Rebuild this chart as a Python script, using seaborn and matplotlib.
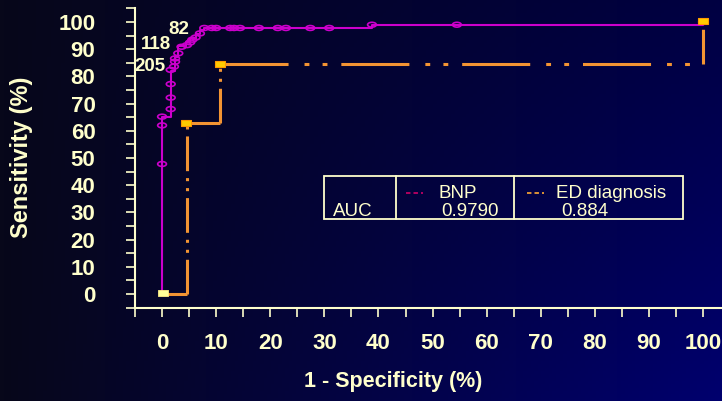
import numpy as np
import pandas as pd
import matplotlib
matplotlib.use("Agg")
import matplotlib.pyplot as plt
import seaborn as sns
from matplotlib.path import Path
from matplotlib.transforms import Affine2D
from matplotlib.patches import Rectangle
from matplotlib.lines import Line2D

# ---------------- data ----------------
bnp_fpr = [0, 0, 1.6, 1.6, 2.4, 2.4, 3.0, 3.0, 4.4, 4.4, 5.2, 5.2, 6.2, 6.2, 7.0, 7.0, 7.8, 7.8, 38.8, 38.8, 100, 100]
bnp_tpr = [0, 65.2, 65.2, 82.0, 82.0, 87.0, 87.0, 91.0, 91.0, 92.5, 92.5, 94.0, 94.0, 95.5, 95.5, 97.0, 97.0, 97.8, 97.8, 99.0, 99.0, 100]

bnp_pts_fpr = [0, 0, 0, 1.6, 1.6, 1.6, 1.6, 2.2, 2.4, 2.4, 3.0, 3.6, 4.6, 5.2, 5.6, 6.2, 7.0, 7.8,
               9.2, 10.0, 12.6, 13.3, 14.4, 17.9, 21.4, 22.9, 27.4, 30.9, 38.8, 54.5, 100]
bnp_pts_tpr = [47.8, 62.0, 65.2, 68.0, 72.2, 77.2, 82.4, 83.6, 85.4, 86.6, 88.5, 90.9, 91.5, 92.5, 93.5, 94.3, 95.8, 97.8,
               97.8, 97.8, 97.8, 97.8, 97.8, 97.8, 97.8, 97.8, 97.8, 97.8, 99.0, 99.0, 100]

ed_fpr = [0, 4.6, 4.6, 10.7, 10.7, 100, 100]
ed_tpr = [0, 0, 63.0, 63.0, 84.6, 84.6, 100]
ed_pts_fpr = [4.5, 10.7, 100]
ed_pts_tpr = [63.0, 84.6, 100.5]

cutoff_labels = ["82", "118", "205"]
cutoff_x = [3.1, -1.2, -2.3]
cutoff_y = [97.4, 91.7, 83.5]

auc_names = ["BNP", "ED diagnosis"]
auc_values = ["0.9790", "0.884"]

xticks = list(range(0, 101, 10))
yticks = list(range(0, 101, 10))

# ---------------- style ----------------
CREAM = "#ffffcc"
MAGENTA = "#cc00cc"
ORANGE = "#f39433"
YELLOW = "#ffcc00"
BOLD = ["Liberation Sans Narrow", "Liberation Sans", "DejaVu Sans"]
REG = ["Liberation Sans", "DejaVu Sans"]

sns.set_theme(style="white")
plt.rcParams["font.family"] = BOLD
plt.rcParams["lines.scale_dashes"] = False

W, H = 722, 401
fig = plt.figure(figsize=(W / 100, H / 100), dpi=100)

# background gradient
bg = fig.add_axes([0, 0, 1, 1], zorder=-10)
xs = np.linspace(0, 1, 200)[None, :]
ys = np.linspace(0, 1, 120)[:, None]  # 0 top, 1 bottom
B = (26 + xs * (40 + 44 * ys)) / 255.0
R = (7 * (1 - xs) + 0 * ys) / 255.0
img = np.dstack([R * np.ones_like(B), R * np.ones_like(B), B])
bg.imshow(img, aspect="auto", extent=[0, 1, 0, 1], origin="upper")
bg.set_axis_off()

L, Rr, T, Bt = 135, 722, 8.4, 307.6
ax = fig.add_axes([L / W, 1 - Bt / H, (Rr - L) / W, (Bt - T) / H])
ax.patch.set_alpha(0)
ax.set_xlim(-5, 103.5)
ax.set_ylim(-5, 105)

df_bnp = pd.DataFrame({"fpr": bnp_fpr, "tpr": bnp_tpr})
sns.lineplot(data=df_bnp, x="fpr", y="tpr", sort=False, estimator=None, ax=ax,
             color=MAGENTA, lw=1.5, zorder=3)

# ED diagnosis: each step segment restarts its dash-dot-dot pattern
H_DASH = [49, 11.5, 3.5, 9.5, 3.5, 10]
V_DASH = [25, 5, 2.2, 5, 2.2, 5]
for i in range(len(ed_fpr) - 1):
    seg = pd.DataFrame({"fpr": ed_fpr[i:i + 2], "tpr": ed_tpr[i:i + 2]})
    sns.lineplot(data=seg, x="fpr", y="tpr", sort=False, estimator=None, ax=ax,
                 color=ORANGE, lw=2.2, zorder=2)
    ln = ax.lines[-1]
    ln.set_dashes(V_DASH if ed_fpr[i] == ed_fpr[i + 1] else H_DASH)
    ln.set_dash_capstyle("butt")

ellipse = Path.unit_circle().transformed(Affine2D().scale(1.0, 0.55))
sns.scatterplot(x=bnp_pts_fpr, y=bnp_pts_tpr, ax=ax, marker=ellipse, s=40, zorder=4)
coll = ax.collections[-1]
coll.set_facecolor("none")
coll.set_edgecolor(MAGENTA)
coll.set_linewidth(1.2)

rect = Path.unit_rectangle().transformed(Affine2D().translate(-0.5, -0.5).scale(1.0, 0.6))
sns.scatterplot(x=ed_pts_fpr, y=ed_pts_tpr, ax=ax, marker=rect, s=60, zorder=5)
c2 = ax.collections[-1]
c2.set_facecolor(YELLOW)
c2.set_edgecolor("#ff9900")
c2.set_linewidth(0.8)
sns.scatterplot(x=[0.2], y=[0.4], ax=ax, marker=rect, s=55, zorder=5)
c3 = ax.collections[-1]
c3.set_facecolor("#ffff99")
c3.set_edgecolor("#ffee88")
c3.set_linewidth(0.6)

for lab, x, y in zip(cutoff_labels, cutoff_x, cutoff_y):
    ax.text(x, y, lab, color=CREAM, fontsize=13.5, fontweight="bold", family=BOLD,
            ha="center", va="center", zorder=6)

# axes styling
for s in ["top", "right"]:
    ax.spines[s].set_visible(False)
for s in ["left", "bottom"]:
    ax.spines[s].set_color(CREAM)
    ax.spines[s].set_linewidth(1.5)
ax.set_xticks(xticks)
ax.set_yticks(yticks)
ax.set_xticks(np.arange(-5, 104, 5), minor=True)
ax.set_yticks(np.arange(-5, 106, 5), minor=True)
ax.tick_params(which="both", direction="out", color=CREAM, width=1.2, length=6.5,
               labelcolor=CREAM, labelsize=16, bottom=True, left=True)
ax.tick_params(axis="y", which="major", pad=22)
ax.tick_params(axis="x", which="major", pad=12)
for t in ax.get_xticklabels() + ax.get_yticklabels():
    t.set_fontweight("bold")
    t.set_family(BOLD)

ax.set_xlabel("1 - Specificity (%)", color=CREAM, fontsize=15.5, fontweight="bold", family=BOLD)
ax.set_ylabel("Sensitivity (%)", color=CREAM, fontsize=17, fontweight="bold", family=BOLD)
ax.xaxis.set_label_coords((393 - L) / (Rr - L), (Bt - 382) / (Bt - T))
ax.xaxis.label.set_verticalalignment("center")
ax.yaxis.set_label_coords((22 - L) / (Rr - L), (Bt - 157) / (Bt - T))
ax.yaxis.label.set_verticalalignment("center")

# AUC box
def fx(px):
    return px / W

def fy(py):
    return 1 - py / H

box = Rectangle((fx(324), fy(219)), fx(683) - fx(324), fy(176) - fy(219),
                transform=fig.transFigure, fill=False, edgecolor=CREAM, lw=1.3, zorder=7)
fig.patches.append(box)
for px in [396, 514]:
    fig.add_artist(Line2D([fx(px), fx(px)], [fy(219), fy(176)], transform=fig.transFigure,
                          color=CREAM, lw=1.3))
fig.text(fx(333), fy(216), "AUC", color=CREAM, fontsize=13.5, family=REG, va="baseline")
dash_cols = ["#cc0066", "#ffaa33"]
dash_x = [406, 527]
name_x = [438, 556]
val_x = [441, 561]
for nm, val, dc, dx, nx, vx in zip(auc_names, auc_values, dash_cols, dash_x, name_x, val_x):
    fig.add_artist(Line2D([fx(dx), fx(dx + 17)], [fy(193), fy(193)], transform=fig.transFigure,
                          color=dc, lw=1.2, dashes=[3.2, 2.2]))
    fig.text(fx(nx), fy(198), nm, color=CREAM, fontsize=13.5, family=REG, va="baseline")
    fig.text(fx(vx), fy(216), val, color=CREAM, fontsize=13.5, family=REG, va="baseline")

fig.savefig("out.png", dpi=100)
